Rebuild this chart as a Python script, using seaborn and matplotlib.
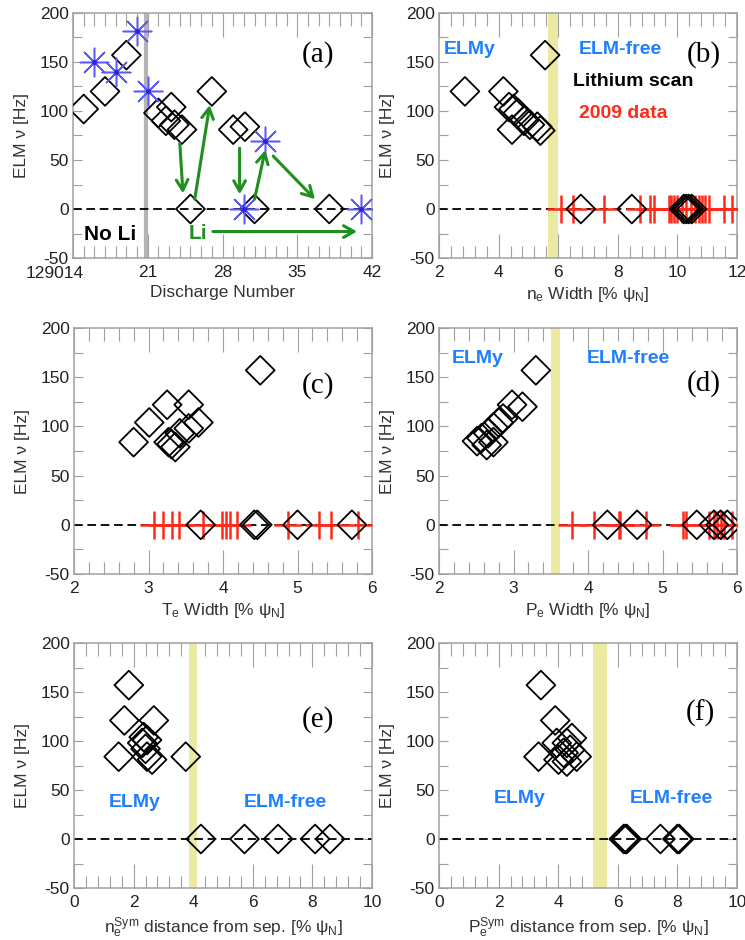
import matplotlib
matplotlib.use("Agg")
import matplotlib.pyplot as plt
from matplotlib.ticker import MultipleLocator, FixedLocator, FixedFormatter
import seaborn as sns

sns.set_theme(style="ticks")
plt.rcParams["font.family"] = ["Liberation Sans", "DejaVu Sans"]
plt.rcParams["mathtext.fontset"] = "custom"
plt.rcParams["mathtext.rm"] = "Liberation Sans"
plt.rcParams["mathtext.it"] = "Liberation Sans:italic"
plt.rcParams["mathtext.bf"] = "Liberation Sans:bold"
plt.rcParams["axes.unicode_minus"] = False

# ---------------------------------------------------------------- data
# (a) ELM frequency along the lithium scan, discharges 129014-129042
shot_lith = [15, 17, 19, 22, 22.7, 23.2, 23.5, 24.2, 25, 27, 29, 30.1, 31, 38]
elm_lith = [102, 120, 157, 98, 90, 104, 86, 81, 0, 120, 81, 84, 0, 0]
shot_ref = [16, 18, 20, 21, 30, 32, 41]
elm_ref = [150, 140, 182, 120, 0, 69, 0]
lithium_start = 20.85
shot_ticks = [14, 21, 28, 35, 42]
shot_ticklabels = ["129014", "21", "28", "35", "42"]
# arrows: (start shot, start freq, end shot, end freq)
arrows_a = [
    (24.0, 67, 24.3, 16),
    (25.4, 10, 26.8, 106),
    (29.6, 62, 29.6, 15),
    (31.0, 10, 32.0, 60),
    (32.75, 54, 36.66, 10),
    (27.1, -23, 40.6, -23),
]

# (b) density pedestal width
ne_width = [2.87, 4.16, 5.56, 4.35, 4.5, 4.65, 4.85, 5.05, 5.3, 5.4, 4.45,
            6.76, 8.47, 10.22, 10.3, 10.38, 10.48]
ne_elm = [120, 120, 157, 104, 102, 98, 90, 86, 84, 80, 81,
          0, 0, 0, 0, 0, 0]
ne_width_2009 = [6.1, 6.5, 7.55, 8.75, 9.08, 9.2, 9.72, 9.8, 9.88, 10.0,
                 10.15, 10.3, 10.45, 10.6, 10.72, 10.82, 10.93, 11.05, 11.55, 11.83]
ne_elm_2009 = [0, 0, 0, 0, 0, 0, 0, 0, 0, 0, 0, 0, 0, 0, 0, 0, 0, 0, 0, 0]
ne_band = (5.67, 6.0)

# (c) temperature pedestal width
te_width = [2.80, 3.01, 3.25, 3.54, 4.50, 3.67, 3.54, 3.42, 3.27, 3.31, 3.36,
            3.70, 4.42, 4.46, 5.0, 5.73]
te_elm = [84, 104, 122, 122, 157, 104, 98, 93, 84, 82, 79,
          0, 0, 0, 0, 0]
te_width_2009 = [3.07, 3.20, 3.31, 3.41, 3.73, 3.98, 4.04, 4.10, 4.19,
                 4.87, 5.29, 5.45, 5.81]
te_elm_2009 = [0, 0, 0, 0, 0, 0, 0, 0, 0, 0, 0, 0, 0]

# (d) pressure pedestal width
pe_width = [3.30, 3.12, 2.98, 2.86, 2.80, 2.73, 2.66, 2.57, 2.51, 2.64, 2.73,
            4.26, 4.66, 5.46, 5.69, 5.78, 5.87]
pe_elm = [157, 120, 122, 108, 104, 99, 93, 88, 85, 81, 84,
          0, 0, 0, 0, 0, 0]
pe_width_2009 = [3.79, 4.08, 4.41, 4.43, 4.78, 5.28, 5.31, 5.62, 5.69, 5.73,
                 5.78, 5.82, 5.93]
pe_elm_2009 = [0, 0, 0, 0, 0, 0, 0, 0, 0, 0, 0, 0, 0]
pe_band = (3.51, 3.63)

# (e) density symmetry point distance from separatrix
ne_sym = [1.84, 1.69, 2.68, 1.50, 3.75, 2.34, 2.45, 2.29, 2.40, 2.45, 2.62,
          4.26, 5.72, 6.85, 8.09, 8.59]
ne_sym_elm = [157, 121, 121, 84, 84, 104, 101, 98, 92, 84, 81,
              0, 0, 0, 0, 0]
ne_sym_band = (3.86, 4.14)

# (f) pressure symmetry point distance from separatrix
pe_sym = [3.42, 3.90, 3.34, 3.95, 4.29, 4.46, 4.18, 4.62, 4.01, 4.29, 4.40,
          6.2, 6.25, 6.3, 7.43, 8.0, 8.06]
pe_sym_elm = [157, 121, 84, 98, 98, 103, 88, 84, 81, 79, 91,
              0, 0, 0, 0, 0, 0]
pe_sym_band = (5.16, 5.63)

# ---------------------------------------------------------------- styling
GREEN = "#1f8f1f"
TXT_BLUE = "#1f80ff"
STAR = "#5a5aff"
RED = "#ff2a1a"
BAND = "#ece9a2"
FRAME = "#a0a0a0"
LABEL = "#333333"
YLABEL = "ELM ν [Hz]"
FS = 12.5

fig = plt.figure(figsize=(7.45, 9.4), dpi=100)
W, H = 745.0, 940.0


def make_axes(left, right, top, bottom):
    return fig.add_axes([left / W, 1 - bottom / H, (right - left) / W, (bottom - top) / H])


def style(ax, xlim, xmajor, xminor, xlabel):
    ax.set_xlim(*xlim)
    ax.set_ylim(-50, 200)
    ax.xaxis.set_major_locator(MultipleLocator(xmajor))
    ax.xaxis.set_minor_locator(MultipleLocator(xminor))
    ax.yaxis.set_major_locator(MultipleLocator(50))
    ax.yaxis.set_minor_locator(MultipleLocator(25))
    for s in ax.spines.values():
        s.set_visible(True)
        s.set_color(FRAME)
        s.set_linewidth(1.1)
    ax.tick_params(axis="x", which="major", direction="in", length=17, width=0.8,
                   color=FRAME, top=True, bottom=True, labelsize=FS, pad=5,
                   labelcolor="#222222")
    ax.tick_params(axis="x", which="minor", direction="in", length=9, width=0.8,
                   color=FRAME, top=True, bottom=True)
    ax.tick_params(axis="y", which="both", direction="in", length=6.5, width=0.8,
                   color=FRAME, left=True, right=True, labelsize=FS, pad=3,
                   labelcolor="#222222")
    ax.set_xlabel(xlabel, fontsize=FS, color=LABEL, labelpad=4)
    ax.set_ylabel(YLABEL, fontsize=FS, color=LABEL, labelpad=8)
    ax.grid(False)


def zero_line(ax):
    ax.axhline(0, color="black", lw=1.3, ls=(0, (4.8, 2.6)), zorder=2)


def diamonds(ax, x, y, lw=1.3):
    sns.scatterplot(x=x, y=y, marker="D", s=215, facecolor="none",
                    edgecolor="black", linewidth=lw, ax=ax, zorder=5, legend=False)


def red_plus(ax, x, y):
    sns.scatterplot(x=x, y=y, marker="+", s=420, color=RED, linewidth=1.8,
                    ax=ax, zorder=3, legend=False)


def panel_tag(ax, tag, fx, fy):
    ax.text(fx, fy, tag, transform=ax.transAxes, ha="center", va="center",
            fontsize=21, family=["Liberation Serif", "DejaVu Serif"], color="black")


def region_text(ax, text, fx, fy, color=TXT_BLUE):
    ax.text(fx, fy, text, transform=ax.transAxes, ha="center", va="center",
            fontsize=14, fontweight="bold", color=color)


# ---------------------------------------------------------------- (a)
ax = make_axes(73, 372, 13, 258)
style(ax, (14, 42), 7, 1, "Discharge Number")
ax.xaxis.set_major_locator(FixedLocator(shot_ticks))
ax.xaxis.set_major_formatter(FixedFormatter([""] + shot_ticklabels[1:]))
ax.annotate(shot_ticklabels[0], xy=(shot_ticks[0], 0), xycoords=("data", "axes fraction"),
            xytext=(-13, -5.5), textcoords="offset points", ha="center", va="top",
            fontsize=FS, color="#222222", annotation_clip=False)
ax.axvline(lithium_start, color="#b4b4b4", lw=3, zorder=1)
zero_line(ax)
diamonds(ax, shot_lith, elm_lith)
sns.scatterplot(x=shot_ref, y=elm_ref, marker=(8, 2, 0), s=420, color=STAR,
                linewidth=1.1, ax=ax, zorder=6, legend=False)
sns.scatterplot(x=shot_ref, y=elm_ref, marker="o", s=14, color="#2a2ad0",
                linewidth=0, ax=ax, zorder=7, legend=False)
for x0, y0, x1, y1 in arrows_a:
    ax.annotate("", xy=(x1, y1), xytext=(x0, y0),
                arrowprops=dict(arrowstyle="->,head_length=0.75,head_width=0.42",
                                color=GREEN, lw=2.2, shrinkA=0, shrinkB=0,
                                mutation_scale=10), zorder=8)
ax.text(17.5, -26, "No Li", ha="center", va="center", fontsize=15,
        fontweight="bold", color="black")
ax.text(25.7, -25, "Li", ha="center", va="center", fontsize=15,
        fontweight="bold", color=GREEN)
panel_tag(ax, "(a)", 0.82, 0.829)

# ---------------------------------------------------------------- (b)
ax = make_axes(439, 737, 13, 258)
style(ax, (2, 12), 2, 0.4, r"n$_\mathregular{e}$ Width [% ψ$_\mathregular{N}$]")
ax.axvspan(*ne_band, color=BAND, lw=0, zorder=1)
zero_line(ax)
red_plus(ax, ne_width_2009, ne_elm_2009)
diamonds(ax, ne_width, ne_elm)
region_text(ax, "ELMy", 0.104, 0.849)
region_text(ax, "ELM-free", 0.607, 0.849)
region_text(ax, "Lithium scan", 0.652, 0.72, color="black")
region_text(ax, "2009 data", 0.618, 0.59, color=RED)
panel_tag(ax, "(b)", 0.887, 0.829)

# ---------------------------------------------------------------- (c)
ax = make_axes(74, 372, 328, 574)
style(ax, (2, 6), 1, 0.2, r"T$_\mathregular{e}$ Width [% ψ$_\mathregular{N}$]")
zero_line(ax)
red_plus(ax, te_width_2009, te_elm_2009)
diamonds(ax, te_width, te_elm)
panel_tag(ax, "(c)", 0.82, 0.768)

# ---------------------------------------------------------------- (d)
ax = make_axes(439, 737, 328, 574)
style(ax, (2, 6), 1, 0.2, r"P$_\mathregular{e}$ Width [% ψ$_\mathregular{N}$]")
ax.axvspan(*pe_band, color=BAND, lw=0, zorder=1)
zero_line(ax)
red_plus(ax, pe_width_2009, pe_elm_2009)
diamonds(ax, pe_width, pe_elm)
region_text(ax, "ELMy", 0.129, 0.874)
region_text(ax, "ELM-free", 0.635, 0.874)
panel_tag(ax, "(d)", 0.887, 0.775)

# ---------------------------------------------------------------- (e)
ax = make_axes(74, 372, 643, 888)
style(ax, (0, 10), 2, 0.4,
      r"n$_\mathregular{e}^\mathregular{Sym}$ distance from sep. [% ψ$_\mathregular{N}$]")
ax.axvspan(*ne_sym_band, color=BAND, lw=0, zorder=1)
zero_line(ax)
diamonds(ax, ne_sym, ne_sym_elm)
region_text(ax, "ELMy", 0.205, 0.348)
region_text(ax, "ELM-free", 0.708, 0.348)
panel_tag(ax, "(e)", 0.82, 0.686)

# ---------------------------------------------------------------- (f)
ax = make_axes(439, 737, 643, 888)
style(ax, (0, 10), 2, 0.4,
      r"P$_\mathregular{e}^\mathregular{Sym}$ distance from sep. [% ψ$_\mathregular{N}$]")
ax.axvspan(*pe_sym_band, color=BAND, lw=0, zorder=1)
zero_line(ax)
diamonds(ax, pe_sym, pe_sym_elm)
region_text(ax, "ELMy", 0.272, 0.366)
region_text(ax, "ELM-free", 0.781, 0.366)
panel_tag(ax, "(f)", 0.876, 0.713)

fig.savefig("out.png", dpi=100, facecolor="white")
